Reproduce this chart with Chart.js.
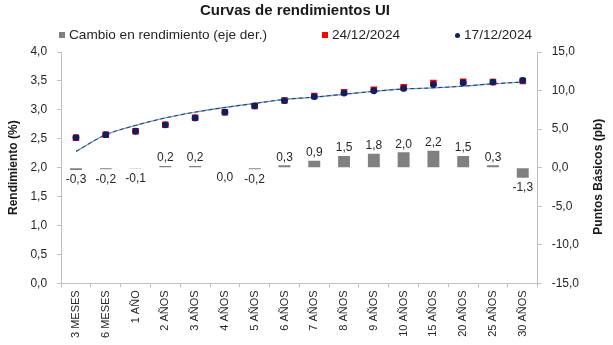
<!DOCTYPE html>
<html lang="es">
<head>
  <meta charset="UTF-8" />
  <title>Curvas de rendimientos UI</title>
  <script src="https://cdn.jsdelivr.net/npm/chart.js"></script>
  <style>
    body {
      margin: 0;
      background: #fff;
      font-family: "Liberation Sans", Arial, sans-serif;
    }
    .wrap {
      position: relative;
      width: 613px;
      height: 345px;
    }
    .titulo {
      position: absolute;
      left: 0;
      top: 1px;
      width: 590px;
      text-align: center;
      font-size: 15px;
      font-weight: bold;
      line-height: 18px;
      color: #1a1a1a;
    }
    .leyenda {
      position: absolute;
      left: 59px;
      top: 27px;
      display: flex;
      align-items: center;
      font-size: 13.6px;
      line-height: 16px;
      color: #262626;
      white-space: nowrap;
    }
    .leyenda .item {
      display: flex;
      align-items: center;
      margin-right: 55px;
    }
    .leyenda .marca {
      width: 6px;
      height: 6px;
      margin-right: 4px;
    }
    .leyenda .circulo {
      width: 5px;
      height: 5px;
      border-radius: 50%;
    }
  </style>
</head>
<body>
<div class="wrap">
  <canvas id="curvas" width="613" height="345"></canvas>
  <div class="titulo">Curvas de rendimientos UI</div>
  <div class="leyenda" id="leyenda"></div>
</div>

<script>
  const plazos = ["3 MESES", "6 MESES", "1 AÑO", "2 AÑOS", "3 AÑOS", "4 AÑOS", "5 AÑOS", "6 AÑOS",
                  "7 AÑOS", "8 AÑOS", "9 AÑOS", "10 AÑOS", "15 AÑOS", "20 AÑOS", "25 AÑOS", "30 AÑOS"];

  // cambio semanal en puntos básicos (eje derecho)
  const cambioPb = [-0.3, -0.2, -0.1, 0.2, 0.2, 0.0, -0.2, 0.3, 0.9, 1.5, 1.8, 2.0, 2.2, 1.5, 0.3, -1.3];

  // rendimientos observados (%)
  const rend24 = [2.517, 2.568, 2.629, 2.742, 2.862, 2.960, 3.068, 3.163,
                  3.239, 3.305, 3.348, 3.390, 3.462, 3.485, 3.483, 3.497];
  const rend17 = [2.52, 2.57, 2.63, 2.74, 2.86, 2.96, 3.07, 3.16,
                  3.23, 3.29, 3.33, 3.37, 3.44, 3.47, 3.48, 3.51];

  // curva ajustada
  const curvaAjuste = [2.28, 2.57, 2.73, 2.86, 2.96, 3.04, 3.11, 3.18,
                       3.22, 3.27, 3.32, 3.36, 3.38, 3.41, 3.45, 3.48];

  const ticksIzq = { min: 0, max: 4, step: 0.5 };
  const ticksDer = { min: -15, max: 15, step: 5 };

  const fuente = "'Liberation Sans', Arial, sans-serif";
  const gris = "#bfbfbf";
  const texto = "#262626";

  const coma = v => Number(v).toFixed(1).replace(".", ",");

  // etiquetas de las barras (arriba si es positivo, abajo si no)
  const etiquetasBarras = {
    id: "etiquetasBarras",
    afterDatasetsDraw(chart) {
      const meta = chart.getDatasetMeta(0);
      const ctx = chart.ctx;
      ctx.save();
      ctx.font = "12px " + fuente;
      ctx.fillStyle = texto;
      ctx.textAlign = "center";
      ctx.textBaseline = "middle";
      meta.data.forEach((barra, i) => {
        const v = cambioPb[i];
        const y = v > 0 ? barra.y - 8 : barra.y + 10;
        ctx.fillText(coma(v), barra.x, y);
      });
      ctx.restore();
    }
  };

  // título del eje derecho, leído de abajo hacia arriba como el izquierdo
  const tituloDerecho = {
    id: "tituloDerecho",
    afterDraw(chart) {
      const ctx = chart.ctx;
      ctx.save();
      ctx.translate(chart.width - 14, (chart.chartArea.top + chart.chartArea.bottom) / 2 + 9);
      ctx.rotate(-Math.PI / 2);
      ctx.font = "bold 12px " + fuente;
      ctx.fillStyle = "#1a1a1a";
      ctx.textAlign = "center";
      ctx.textBaseline = "middle";
      ctx.fillText("Puntos Básicos (pb)", 0, 0);
      ctx.restore();
    }
  };

  const datasets = [
    {
      type: "bar",
      label: "Cambio en rendimiento (eje der.)",
      data: cambioPb,
      yAxisID: "y2",
      backgroundColor: "#808080",
      barPercentage: 0.4,
      categoryPercentage: 1,
      order: 2
    },
    {
      type: "line",
      label: "24/12/2024",
      data: rend24,
      yAxisID: "y",
      showLine: false,
      pointStyle: "rect",
      pointRadius: 4.6,
      pointBackgroundColor: "#ff0000",
      pointBorderWidth: 0,
      backgroundColor: "#ff0000",
      order: 1
    },
    {
      type: "line",
      label: "17/12/2024",
      data: rend17,
      yAxisID: "y",
      showLine: false,
      pointStyle: "circle",
      pointRadius: 3.4,
      pointBackgroundColor: "#0d1f5c",
      pointBorderWidth: 0,
      backgroundColor: "#0d1f5c",
      order: 0
    },
    {
      type: "line",
      label: "curva",
      data: curvaAjuste,
      yAxisID: "y",
      borderColor: "#1f3a6e",
      borderWidth: 1,
      borderDash: [4, 3],
      pointRadius: 0,
      cubicInterpolationMode: "monotone",
      order: 3
    },
    {
      type: "line",
      label: "curva base",
      data: curvaAjuste,
      yAxisID: "y",
      borderColor: "#7f9fc8",
      borderWidth: 1.4,
      pointRadius: 0,
      cubicInterpolationMode: "monotone",
      order: 4
    }
  ];

  const chart = new Chart(document.getElementById("curvas"), {
    data: { labels: plazos, datasets: datasets },
    plugins: [etiquetasBarras, tituloDerecho],
    options: {
      responsive: false,
      animation: false,
      layout: { padding: { left: 3, right: 24, top: 52, bottom: 4 } },
      plugins: {
        legend: { display: false },
        tooltip: { enabled: false }
      },
      scales: {
        x: {
          grid: { offset: true, drawOnChartArea: false, tickLength: 4, color: gris },
          border: { color: gris },
          ticks: {
            minRotation: 90,
            maxRotation: 90,
            padding: 3,
            color: texto,
            font: { family: fuente, size: 11 }
          }
        },
        y: {
          position: "left",
          min: ticksIzq.min,
          max: ticksIzq.max,
          grid: { drawOnChartArea: false, tickLength: 4, color: gris },
          border: { color: gris },
          ticks: {
            stepSize: ticksIzq.step,
            padding: 10,
            color: texto,
            font: { family: fuente, size: 12 },
            callback: v => coma(v)
          },
          title: {
            display: true,
            text: "Rendimiento (%)",
            color: "#1a1a1a",
            font: { family: fuente, size: 12, weight: "bold" },
            padding: { top: 3, bottom: 0 }
          }
        },
        y2: {
          position: "right",
          min: ticksDer.min,
          max: ticksDer.max,
          grid: { drawOnChartArea: false, tickLength: 4, color: gris },
          border: { color: gris },
          ticks: {
            stepSize: ticksDer.step,
            padding: 10,
            color: texto,
            font: { family: fuente, size: 12 },
            callback: v => coma(v)
          }
        }
      }
    }
  });

  // leyenda: barra y las dos fechas
  const leyenda = document.getElementById("leyenda");
  datasets.slice(0, 3).forEach(ds => {
    const item = document.createElement("span");
    item.className = "item";
    const marca = document.createElement("span");
    marca.className = ds.pointStyle === "circle" ? "marca circulo" : "marca";
    marca.style.background = ds.backgroundColor;
    item.appendChild(marca);
    item.appendChild(document.createTextNode(ds.label));
    leyenda.appendChild(item);
  });
</script>
</body>
</html>
